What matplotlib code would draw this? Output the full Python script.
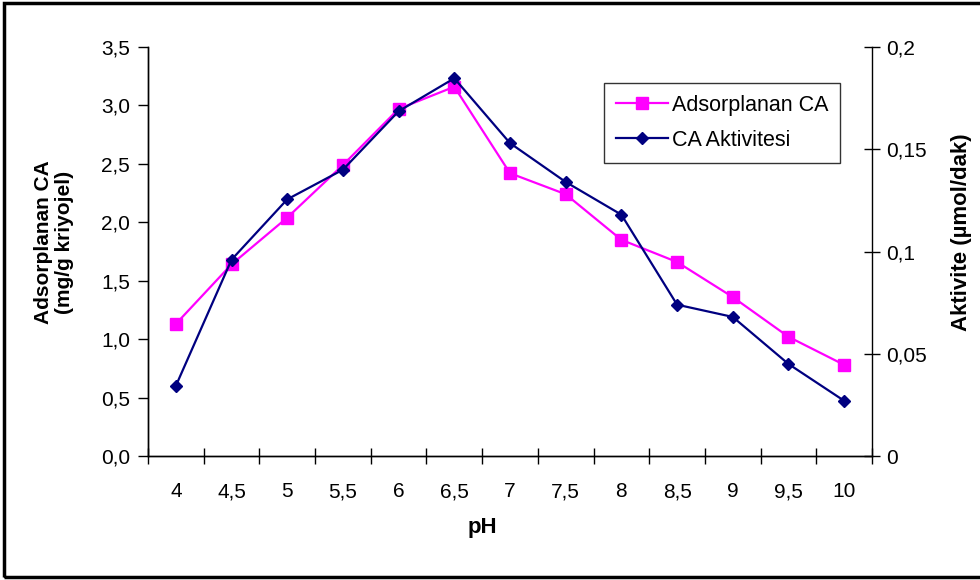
import matplotlib
matplotlib.use('Agg')
import matplotlib.pyplot as plt
from matplotlib.patches import Rectangle

plt.rcParams['font.family'] = ['Liberation Sans', 'DejaVu Sans']

ph_labels = ['4', '4,5', '5', '5,5', '6', '6,5', '7', '7,5', '8', '8,5', '9', '9,5', '10']
adsorbed = [1.13, 1.64, 2.04, 2.49, 2.97, 3.16, 2.42, 2.24, 1.85, 1.66, 1.36, 1.02, 0.78]
activity = [0.0343, 0.096, 0.1255, 0.140, 0.1686, 0.1847, 0.153, 0.134, 0.118,
            0.074, 0.068, 0.045, 0.027]
left_ticks = [0.0, 0.5, 1.0, 1.5, 2.0, 2.5, 3.0, 3.5]
left_tick_labels = ['0,0', '0,5', '1,0', '1,5', '2,0', '2,5', '3,0', '3,5']
right_ticks = [0, 0.05, 0.1, 0.15, 0.2]
right_tick_labels = ['0', '0,05', '0,1', '0,15', '0,2']

W, H = 980, 580
fig = plt.figure(figsize=(W / 100, H / 100), dpi=100)
ax = fig.add_axes([148 / W, 1 - 456 / H, (872 - 148) / W, (456 - 47) / H])
ax2 = ax.twinx()

x = list(range(len(ph_labels)))
l1, = ax.plot(x, adsorbed, '-s', color='#FF00FF', lw=1.6, ms=8.5,
              label='Adsorplanan CA')
l2, = ax2.plot(x, activity, '-D', color='#000080', lw=1.6, ms=6.5,
               label='CA Aktivitesi')

ax.set_xlim(-0.5, len(x) - 0.5)
ax.set_ylim(0, 3.5)
ax2.set_ylim(0, 0.2)

# category axis: labels at centres, ticks between categories
ax.set_xticks(x)
ax.set_xticklabels(ph_labels)
ax.set_xticks([i - 0.5 for i in range(len(x) + 1)], minor=True)
ax.tick_params(axis='x', which='major', length=0, pad=19, labelsize=15)
ax.tick_params(axis='x', which='minor', direction='inout', length=12, width=1)

ax.set_yticks(left_ticks)
ax.set_yticklabels(left_tick_labels)
ax.tick_params(axis='y', direction='out', length=7, width=1, labelsize=15, pad=6)
ax2.set_yticks(right_ticks)
ax2.set_yticklabels(right_tick_labels)
ax2.tick_params(axis='y', direction='inout', length=12, width=1, labelsize=15, pad=4)

for a in (ax, ax2):
    a.spines['top'].set_visible(False)
    for s in ('left', 'right', 'bottom'):
        a.spines[s].set_linewidth(1)
ax.spines['right'].set_visible(False)

# axis titles placed like the Excel export
fig.text(482 / W, 1 - 528 / H, 'pH', fontsize=16, fontweight='bold',
         ha='center', va='center')
fig.text(54 / W, 1 - 242 / H, 'Adsorplanan CA\n(mg/g kriyojel)', fontsize=15,
         fontweight='bold', rotation=90, ha='center', va='center', linespacing=1.1)
fig.text(961 / W, 1 - 232 / H, 'Aktivite (µmol/dak)', fontsize=16,
         fontweight='bold', rotation=90, ha='center', va='center')

leg = ax.legend([l1, l2], ['Adsorplanan CA', 'CA Aktivitesi'],
                loc='upper left', bbox_to_anchor=((604 - 148) / 724, 1 - (83 - 47) / 409),
                fontsize=15.5, frameon=True, fancybox=False, edgecolor='black',
                handlelength=2.4, borderpad=0.55, labelspacing=0.65, handletextpad=0.2,
                borderaxespad=0)
leg.get_frame().set_linewidth(1)

# outer frame like the exported sheet
fig.patches.append(Rectangle((4 / W, 3 / H), 1.2, 1 - 6 / H,
                             transform=fig.transFigure, fill=False,
                             edgecolor='black', lw=2.5))

fig.savefig('out.png', dpi=100)
